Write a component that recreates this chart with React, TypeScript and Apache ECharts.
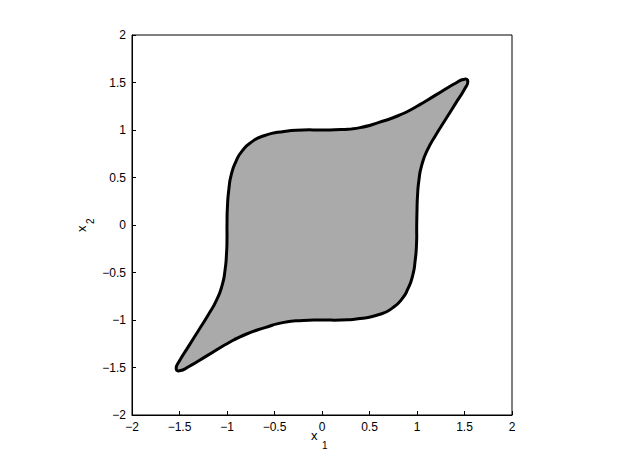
import React, { useEffect, useRef } from "react";
import * as echarts from "echarts";

// Boundary of the shaded region, read clockwise from the picture
const boundaryX = [
  -1.0, -0.995, -0.98, -0.955, -0.905, -0.84, -0.74, -0.61, -0.4, -0.2, 0.0, 0.2, 0.4, 0.6, 0.8, 1.0, 1.2, 1.4, 1.5, 1.535,
  1.5, 1.4, 1.3, 1.2, 1.11, 1.05, 1.02, 1.005, 1.0, 0.997,
  0.995, 0.98, 0.955, 0.905, 0.84, 0.74, 0.61, 0.4, 0.2, 0.0, -0.2, -0.4, -0.6, -0.8, -1.0, -1.2, -1.4, -1.5, -1.535,
  -1.5, -1.4, -1.3, -1.2, -1.11, -1.05, -1.02, -1.005, -1.0,
];
const boundaryY = [
  0.0, 0.2, 0.38, 0.53, 0.67, 0.78, 0.875, 0.94, 0.985, 1.0, 1.0, 1.005, 1.025, 1.08, 1.15, 1.25, 1.37, 1.49, 1.535, 1.51,
  1.43, 1.27, 1.11, 0.95, 0.79, 0.63, 0.47, 0.3, 0.15, 0.0,
  -0.2, -0.38, -0.53, -0.67, -0.78, -0.875, -0.94, -0.985, -1.0, -1.0, -1.005, -1.025, -1.08, -1.15, -1.25, -1.37, -1.49, -1.535, -1.51,
  -1.43, -1.27, -1.11, -0.95, -0.79, -0.63, -0.47, -0.3, -0.15,
];
const axisMin = -2;
const axisMax = 2;
const tickStep = 0.5;

const FONT = "'Liberation Sans', Arial, Helvetica, sans-serif";

function fmt(v: number) {
  return String(v).replace("-", "\u2212");
}

export default function App() {
  const ref = useRef<HTMLDivElement>(null);
  useEffect(() => {
    if (!ref.current) return;
    const chart = echarts.init(ref.current, null, { renderer: "svg" });
    const pts = boundaryX.map((x, i) => [x, boundaryY[i]]);
    const axisCommon = {
      type: "value" as const,
      min: axisMin,
      max: axisMax,
      interval: tickStep,
      axisLine: { show: true, onZero: false, lineStyle: { color: "#000", width: 1 } },
      axisTick: { show: true, inside: true, length: 4, lineStyle: { color: "#000" } },
      splitLine: { show: false },
      axisLabel: {
        color: "#000",
        fontSize: 12,
        fontFamily: FONT,
        margin: 6,
        formatter: (v: number) => fmt(v),
      },
    };
    chart.setOption({
      animation: false,
      backgroundColor: "#fff",
      grid: {
        left: 132,
        top: 35,
        width: 380,
        height: 380,
        show: true,
        borderColor: "#000",
        borderWidth: 1,
        backgroundColor: "transparent",
      },
      xAxis: { ...axisCommon, position: "bottom" },
      yAxis: { ...axisCommon, position: "left" },
      series: [
        {
          type: "custom",
          data: pts,
          encode: { x: 0, y: 1 },
          renderItem: (params: any, api: any) => {
            if (params.dataIndex !== 0) return null;
            const coords = pts.map((p) => api.coord(p));
            return {
              type: "polygon",
              shape: { points: coords, smooth: 0.6 },
              style: { fill: "#aaaaaa", stroke: "#000", lineWidth: 3, lineJoin: "round" },
            };
          },
        },
      ],
      graphic: [
        { type: "text", left: 311, top: 429, style: { text: "x", fontSize: 13, fontFamily: FONT, fill: "#000" } },
        { type: "text", left: 322, top: 440, style: { text: "1", fontSize: 10, fontFamily: FONT, fill: "#000" } },
        {
          type: "group",
          x: 75,
          y: 232,
          rotation: Math.PI / 2,
          children: [
            { type: "text", x: 0, y: 0, style: { text: "x", fontSize: 13, fontFamily: FONT, fill: "#000" } },
            { type: "text", x: 8, y: 10, style: { text: "2", fontSize: 10, fontFamily: FONT, fill: "#000" } },
          ],
        },
      ],
    });
    return () => chart.dispose();
  }, []);
  return <div ref={ref} style={{ position: "fixed", left: 0, top: 0, width: 622, height: 468 }} />;
}
